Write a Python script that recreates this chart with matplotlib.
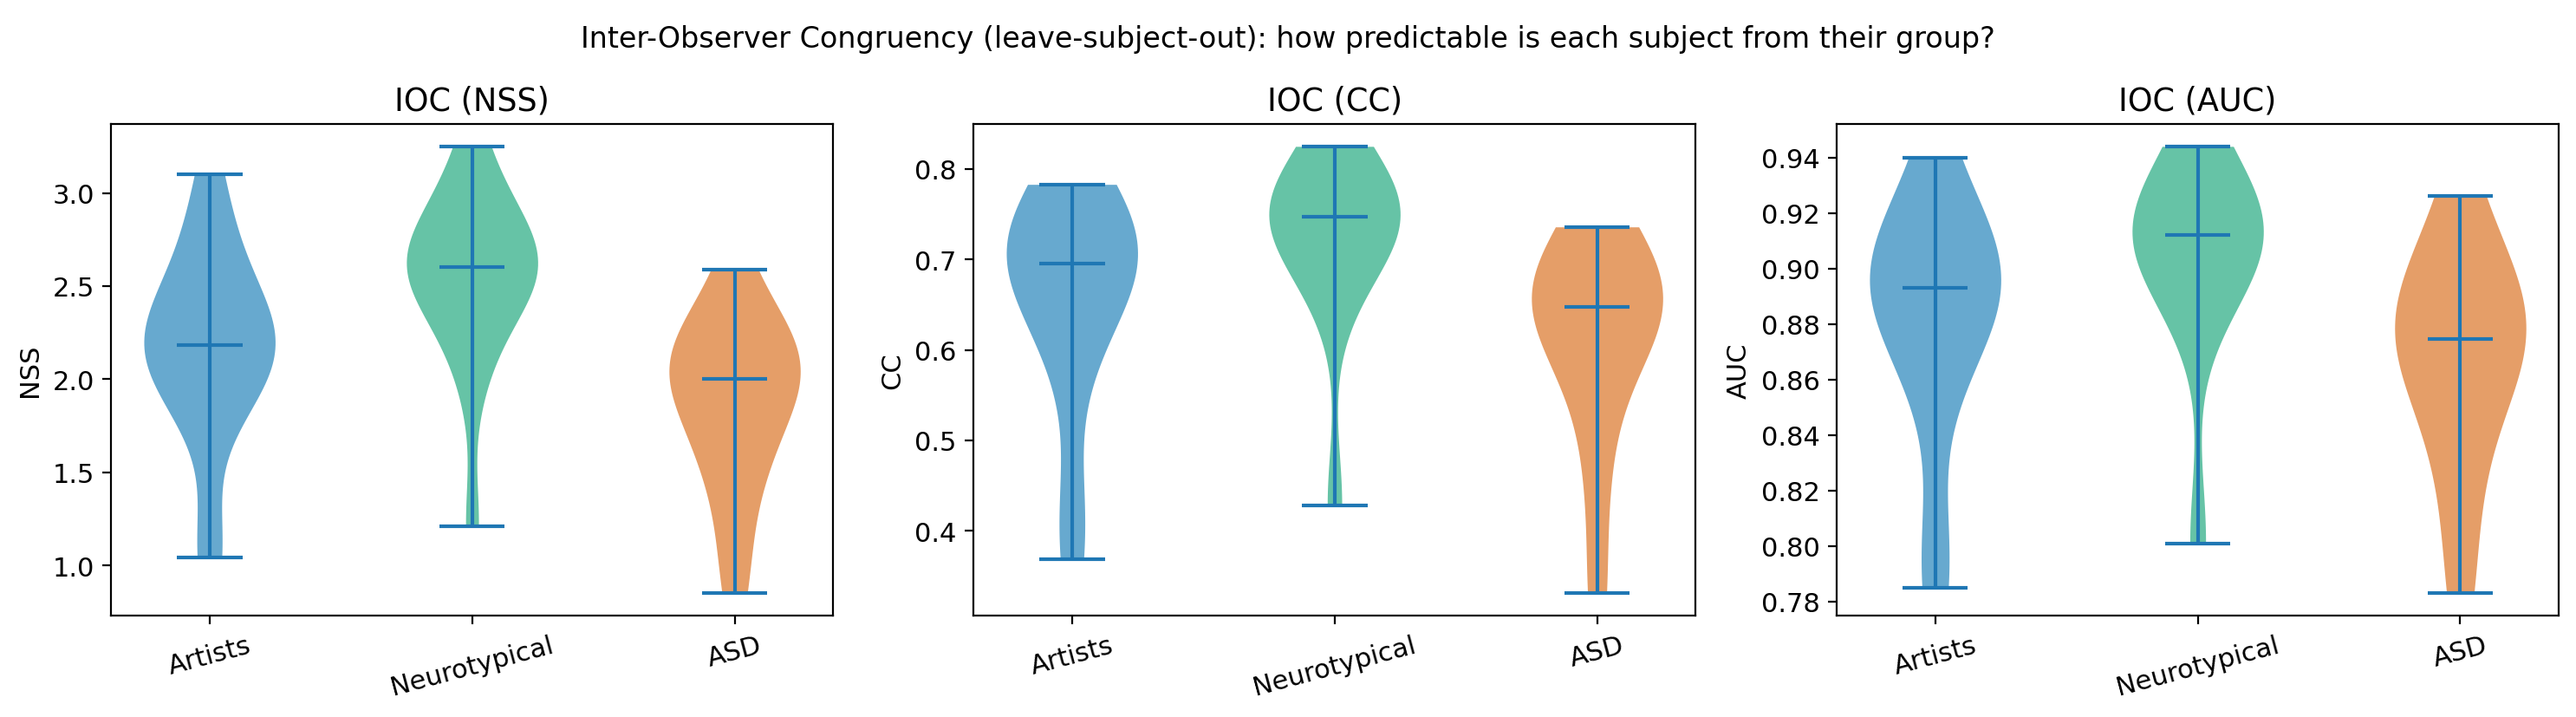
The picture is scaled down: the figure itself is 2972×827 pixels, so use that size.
import numpy as np
import matplotlib
matplotlib.use("Agg")
import matplotlib.pyplot as plt

plt.rcParams["font.size"] = 11

groups = ["Artists", "Neurotypical", "ASD"]
colors = ["#67a9cf", "#66c3a6", "#e59e68"]

# per-subject IOC values (estimated)
nss_artists = [1.04, 1.12, 1.78, 1.92, 2.0, 2.05, 2.1, 2.14, 2.17, 2.2, 2.24, 2.3, 2.36, 2.45, 2.55, 2.7, 2.88, 3.10]
nss_neuro = [1.21, 2.0, 2.2, 2.38, 2.47, 2.53, 2.57, 2.59, 2.61, 2.64, 2.68, 2.74, 2.82, 2.92, 3.05, 3.25]
nss_asd = [0.85, 1.15, 1.45, 1.58, 1.7, 1.82, 1.93, 2.0, 2.04, 2.08, 2.12, 2.18, 2.25, 2.35, 2.59]

cc_artists = [0.369, 0.43, 0.58, 0.63, 0.66, 0.68, 0.69, 0.70, 0.71, 0.72, 0.73, 0.745, 0.76, 0.783]
cc_neuro = [0.428, 0.655, 0.70, 0.72, 0.735, 0.745, 0.75, 0.755, 0.765, 0.775, 0.79, 0.825]
cc_asd = [0.331, 0.46, 0.55, 0.60, 0.63, 0.645, 0.651, 0.66, 0.67, 0.685, 0.70, 0.736]

auc_artists = [0.785, 0.80, 0.855, 0.872, 0.882, 0.888, 0.892, 0.894, 0.897, 0.90, 0.905, 0.912, 0.92, 0.94]
auc_neuro = [0.801, 0.885, 0.898, 0.905, 0.909, 0.912, 0.915, 0.918, 0.922, 0.928, 0.944]
auc_asd = [0.783, 0.815, 0.84, 0.855, 0.865, 0.872, 0.877, 0.882, 0.888, 0.895, 0.905, 0.926]

panels = [
    ("IOC (NSS)", "NSS", [nss_artists, nss_neuro, nss_asd]),
    ("IOC (CC)", "CC", [cc_artists, cc_neuro, cc_asd]),
    ("IOC (AUC)", "AUC", [auc_artists, auc_neuro, auc_asd]),
]

fig = plt.figure(figsize=(14.86, 4.14), dpi=200)
lefts = [0.0431, 0.3779, 0.7130]
w = 0.2803
bottom = 0.1413
h = 0.826 - 0.1413
for i, (title, ylab, data) in enumerate(panels):
    ax = fig.add_axes([lefts[i], bottom, w, h])
    parts = ax.violinplot(data, showmedians=True)
    for body, c in zip(parts["bodies"], colors):
        body.set_facecolor(c)
        body.set_edgecolor(c)
        body.set_alpha(1.0)
        body.set_linewidth(0)
    ax.set_xticks([1, 2, 3])
    ax.set_xticklabels(groups, rotation=15)
    ax.set_title(title)
    ax.set_ylabel(ylab)
fig.suptitle("Inter-Observer Congruency (leave-subject-out): how predictable is each subject from their group?",
             fontsize=12, y=0.965)
fig.savefig("out.png", dpi=200)
